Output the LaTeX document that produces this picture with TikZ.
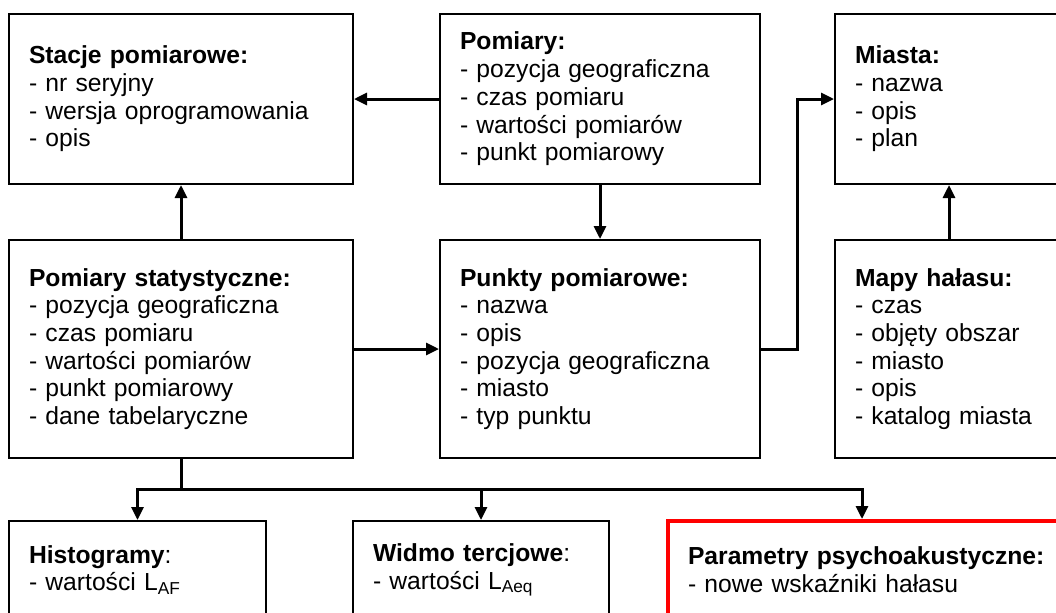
\documentclass[tikz,border=0pt]{standalone}
\usepackage{fontspec}
\setmainfont{Liberation Sans}
\usetikzlibrary{arrows.meta,calc}
\tikzset{
 entity/.style={draw, line width=1.5pt, inner xsep=15pt, inner ysep=0pt, align=left,
   font=\fontsize{18.5}{20.8}\selectfont},
 link/.style={line width=2.25pt, -{Triangle[length=9.75pt,width=9pt]}},
}
\begin{document}
\begin{tikzpicture}[x=0.75pt,y=-0.75pt]
 \useasboundingbox (0,0) rectangle (1056,612);
 % top row
 \node[entity, text width=228pt, minimum height=127.5pt] (stacje) at (181,99)
   {\textbf{Stacje pomiarowe:}\\- nr seryjny\\- wersja oprogramowania\\- opis};
 \node[entity, text width=210pt, minimum height=127.5pt] (pomiary) at (600,99)
   {\textbf{Pomiary:}\\- pozycja geograficzna\\- czas pomiaru\\- wartości pomiarów\\- punkt pomiarowy};
 \node[entity, text width=141pt, minimum height=127.5pt] (miasta) at (949,99)
   {\textbf{Miasta:}\\- nazwa\\- opis\\- plan};
 % middle row
 \node[entity, text width=228pt, minimum height=163.5pt] (pomstat) at (181,349)
   {\textbf{Pomiary statystyczne:}\\- pozycja geograficzna\\- czas pomiaru\\- wartości pomiarów\\- punkt pomiarowy\\- dane tabelaryczne};
 \node[entity, text width=210pt, minimum height=163.5pt] (punkty) at (600,349)
   {\textbf{Punkty pomiarowe:}\\- nazwa\\- opis\\- pozycja geograficzna\\- miasto\\- typ punktu};
 \node[entity, text width=141pt, minimum height=163.5pt] (mapy) at (949,349)
   {\textbf{Mapy hałasu:}\\- czas\\- objęty obszar\\- miasto\\- opis\\- katalog miasta};
 % bottom row
 \node[entity, text width=162.75pt, minimum height=73.5pt] (hist) at (137.5,570)
   {\textbf{Histogramy}:\\- wartości L\textsubscript{AF}};
 \node[entity, text width=162pt, minimum height=73.5pt] (widmo) at (481,570)
   {\textbf{Widmo tercjowe}:\\- wartości L\textsubscript{Aeq}};
 \node[entity, draw=red, line width=3pt, text width=285pt, minimum height=73.5pt] (param) at (878,570)
   {\textbf{Parametry psychoakustyczne:}\\- nowe wskaźniki hałasu};
 % connectors
 \draw[link] (pomiary.west) -- (stacje.east);
 \draw[link] (pomstat.north) -- (stacje.south);
 \draw[link] (pomiary.south) -- (punkty.north);
 \draw[link] (pomstat.east) -- (punkty.west);
 \draw[link] (mapy.north) -- (miasta.south);
 \draw[link] (punkty.east) -- ($(punkty.east)!.5!(mapy.west)$) |- (miasta.west);
 \draw[line width=2.25pt] (pomstat.south) -- ++(0,30) coordinate (bus);
 \draw[link] (bus) -| (hist.north);
 \draw[link] (bus) -| (widmo.north);
 \draw[link] (bus) -| ([xshift=-12pt]param.north);
\end{tikzpicture}
\end{document}
